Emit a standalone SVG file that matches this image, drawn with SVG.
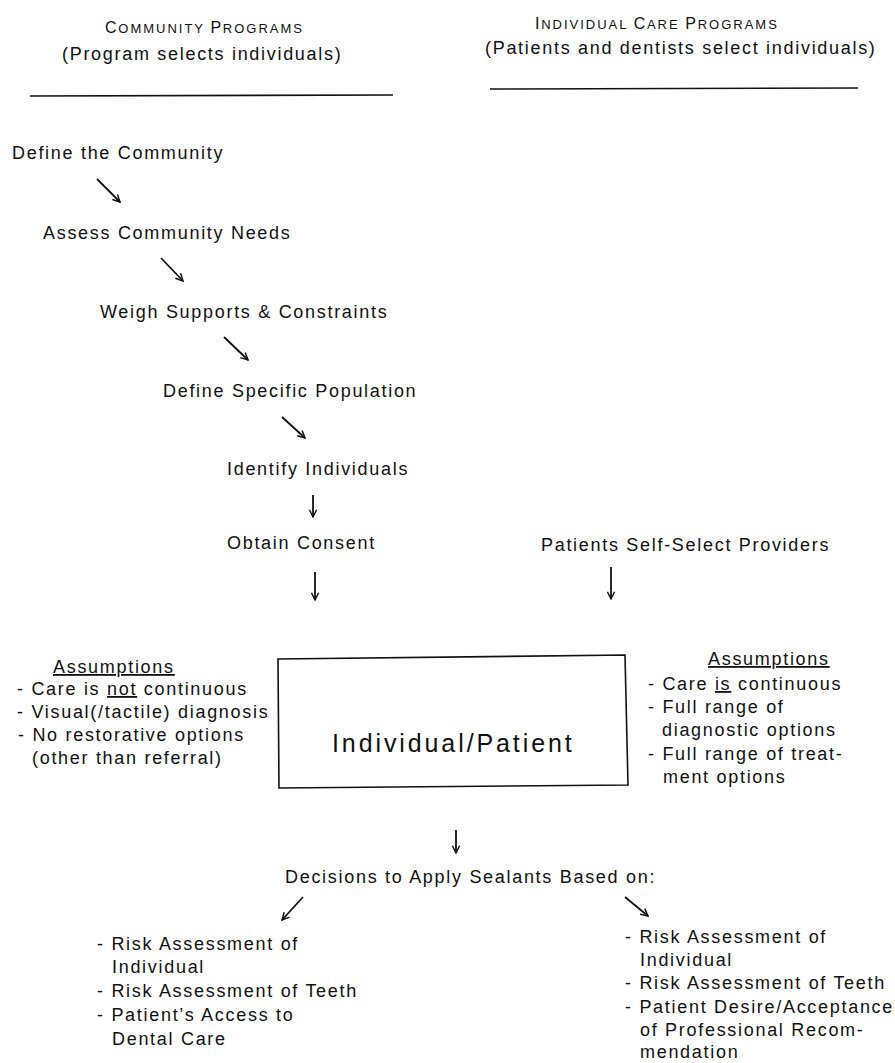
<svg xmlns="http://www.w3.org/2000/svg" width="895" height="1063" viewBox="0 0 895 1063">
<style>
text{font-family:"Liberation Sans",Arial,sans-serif;font-size:18px;letter-spacing:1.7px;fill:#111}
.sc{font-size:13px;letter-spacing:2px}
.big{font-size:25px;letter-spacing:2.9px}
.u{text-decoration:underline}
.rule{stroke:#111;stroke-width:1.6;fill:none}
.arr{stroke:#111;stroke-width:1.8;fill:none;marker-end:url(#ah)}
.box{stroke:#111;stroke-width:1.6;fill:#fff}
</style>
<defs>
<marker id="ah" viewBox="0 0 10 10" refX="9" refY="5" markerWidth="9" markerHeight="9" markerUnits="userSpaceOnUse" orient="auto">
<path d="M1,1 L9,5 L1,9" fill="none" stroke="#111" stroke-width="1.6"/>
</marker>
</defs>
<rect width="895" height="1063" fill="#fff"/>

<g id="header-community">
<text x="105" y="33"><tspan font-size="16">C</tspan><tspan class="sc">OMMUNITY </tspan><tspan font-size="16">P</tspan><tspan class="sc">ROGRAMS</tspan></text>
<text x="62" y="60">(Program selects individuals)</text>
<line class="rule" x1="30" y1="96" x2="393" y2="95"/>
</g>
<g id="header-individual">
<text x="535" y="29"><tspan font-size="16">I</tspan><tspan class="sc">NDIVIDUAL </tspan><tspan font-size="16">C</tspan><tspan class="sc">ARE </tspan><tspan font-size="16">P</tspan><tspan class="sc">ROGRAMS</tspan></text>
<text x="485" y="54">(Patients and dentists select individuals)</text>
<line class="rule" x1="490" y1="89" x2="858" y2="88"/>
</g>

<g id="n-define-community"><text x="12" y="159">Define the Community</text></g>
<g id="n-assess"><text x="43" y="239">Assess Community Needs</text></g>
<g id="n-weigh"><text x="100" y="318">Weigh Supports &amp; Constraints</text></g>
<g id="n-define-pop"><text x="163" y="397">Define Specific Population</text></g>
<g id="n-identify"><text x="227" y="475">Identify Individuals</text></g>
<g id="n-consent"><text x="227" y="549">Obtain Consent</text></g>
<g id="n-selfselect"><text x="541" y="551">Patients Self-Select Providers</text></g>

<g id="n-patient">
<polygon class="box" points="278,659 625,655 628,785 279,788"/>
<text class="big" x="332" y="752">Individual/Patient</text>
</g>

<g id="n-assump-left">
<text x="53" y="673" class="u">Assumptions</text>
<text x="17" y="695">- Care is <tspan class="u">not</tspan> continuous</text>
<text x="17" y="718">- Visual(/tactile) diagnosis</text>
<text x="18" y="741">- No restorative options</text>
<text x="32" y="764">(other than referral)</text>
</g>

<g id="n-assump-right">
<text x="708" y="665" class="u">Assumptions</text>
<text x="648" y="690">- Care <tspan class="u">is</tspan> continuous</text>
<text x="648" y="713">- Full range of</text>
<text x="662" y="736">diagnostic options</text>
<text x="648" y="760">- Full range of treat-</text>
<text x="663" y="783">ment options</text>
</g>

<g id="n-decisions"><text x="285" y="883">Decisions to Apply Sealants Based on:</text></g>

<g id="n-list-left">
<text x="97" y="950">- Risk Assessment of</text>
<text x="112" y="973">Individual</text>
<text x="97" y="997">- Risk Assessment of Teeth</text>
<text x="97" y="1021">- Patient’s Access to</text>
<text x="112" y="1045">Dental Care</text>
</g>

<g id="n-list-right">
<text x="625" y="943">- Risk Assessment of</text>
<text x="640" y="966">Individual</text>
<text x="625" y="989">- Risk Assessment of Teeth</text>
<text x="625" y="1013">- Patient Desire/Acceptance</text>
<text x="640" y="1036">of Professional Recom-</text>
<text x="640" y="1058">mendation</text>
</g>

<g id="connectors">
<line class="arr" x1="97" y1="179" x2="120" y2="202"/>
<line class="arr" x1="161" y1="258" x2="183" y2="281"/>
<line class="arr" x1="224" y1="337" x2="248" y2="360"/>
<line class="arr" x1="282" y1="417" x2="305" y2="438"/>
<line class="arr" x1="313" y1="495" x2="313" y2="517"/>
<line class="arr" x1="315" y1="572" x2="315" y2="600"/>
<line class="arr" x1="611" y1="567" x2="611" y2="599"/>
<line class="arr" x1="456" y1="830" x2="456" y2="853"/>
<line class="arr" x1="303" y1="897" x2="282" y2="920"/>
<line class="arr" x1="625" y1="897" x2="648" y2="916"/>
</g>
</svg>
